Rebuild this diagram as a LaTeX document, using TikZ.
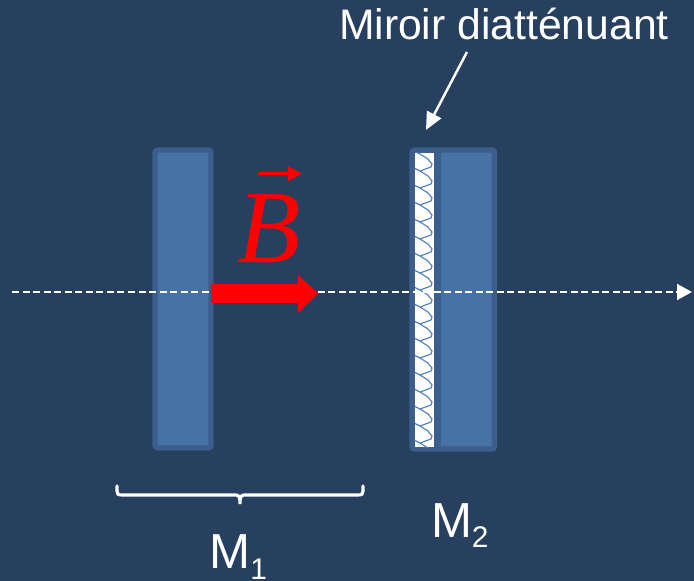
\documentclass[tikz,border=0pt]{standalone}
\usepackage{fontspec}
\setmainfont{Liberation Sans}
\newfontfamily\serifit[ItalicFont=Liberation Serif Italic]{Liberation Serif}
\usetikzlibrary{arrows.meta}
\definecolor{fond}{HTML}{27405F}
\definecolor{miroirbord}{HTML}{3B5E8C}
\definecolor{miroirfill}{HTML}{4672A5}
\definecolor{motif}{HTML}{4F81BD}
\tikzset{
    miroir/.style={fill=miroirfill,draw=miroirbord,line width=3pt,rounded corners=1.5pt},
    legende/.style={text=white,anchor=base west,inner sep=0pt,outer sep=0pt},
    grand/.style={font=\fontsize{28}{30}\selectfont},
}
\newcommand{\indice}[1]{\lower 6.2pt\hbox{\fontsize{17}{20}\selectfont #1}}
\begin{document}
\begin{tikzpicture}[x=0.02cm,y=-0.02cm]
\useasboundingbox[fill=fond] (0,0) rectangle (694,581);
% Miroir M1
\draw[miroir] (155,150) rectangle (211,448);

% Miroir M2
\draw[miroir] (412,150) rectangle (494.5,449);
\fill[miroirbord] (414,152) rectangle (441,447);
\fill[white] (414.5,153) rectangle (434,447);
\begin{scope}
\clip (414.5,153) rectangle (434,447);
\foreach \i in {0,...,17} {
    \pgfmathsetmacro{\y}{154 + \i*17}
    \draw[motif,line width=0.65pt] (414,\y-3) -- (420,\y) -- (428,\y+5) -- (432,\y+10) -- (431,\y+13) -- (420,\y+17);
}
\end{scope}

% Axe optique
\coordinate (axeA) at (12,292);
\coordinate (axeB) at (692,292);
\draw[white,line width=1.2pt,dash pattern=on 4pt off 2pt,-{Triangle[length=8.5pt,width=9pt]}] (axeA) -- (axeB);

% Champ B
\fill[red] (211,284) -- (298,284) -- (298,275) -- (318,293.5) -- (298,313) -- (298,303) -- (211,303) -- cycle;
\node[text=red,anchor=base west,inner sep=0pt] (champ) at (237,263) {\serifit\fontsize{59}{60}\selectfont\textit{B}};
\coordinate (vecA) at (258,173.7);
\coordinate (vecB) at (302,173.7);
\draw[red,line width=2pt,-{Triangle[length=8pt,width=8pt]}] (vecA) -- (vecB);

% Legende du miroir
\node[legende,font=\fontsize{24.3}{28}\selectfont] (titre) at (339,40) {Miroir diatténuant};
\coordinate (fleche) at (426,130);
\coordinate (depart) at (467,52);
\draw[white,line width=1.4pt,-{Triangle[length=10pt,width=9pt]}] (depart) -- (fleche);

% Accolade
\draw[white,line width=1.8pt,line cap=round] (117,486) -- (117,491) .. controls (117,494) and (118,495) .. (122,495) -- (235,495) .. controls (239,495) and (240,496) .. (240,504) .. controls (240,496) and (241,495) .. (245,495) -- (358,495) .. controls (362,495) and (363,494) .. (363,491) -- (363,486);

\node[legende,grand] (mun) at (209.5,568.5) {M\indice{1}};
\node[legende,grand] (mdeux) at (431,537) {M\indice{2}};
\end{tikzpicture}
\end{document}
